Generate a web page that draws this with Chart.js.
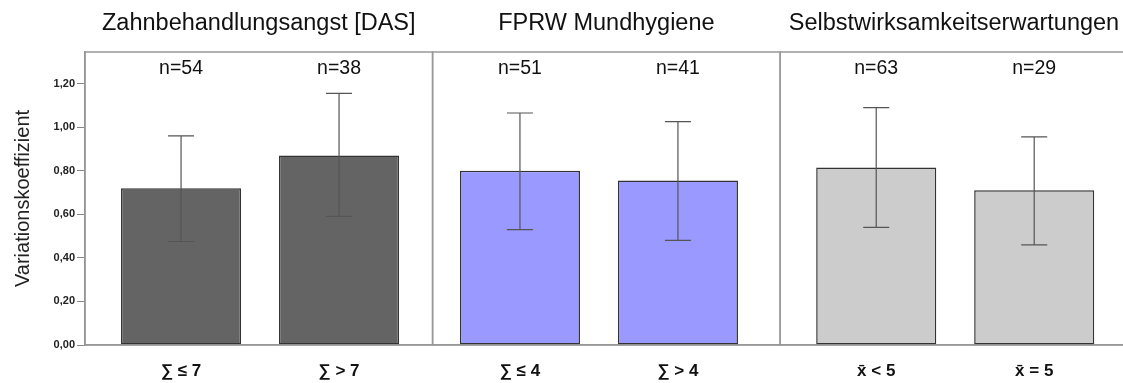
<!DOCTYPE html>
<html>
<head>
<meta charset="utf-8">
<script src="https://cdn.jsdelivr.net/npm/chart.js@4"></script>
<style>
  body { margin: 0; background: #fff; }
</style>
</head>
<body>
<canvas id="cv_chart" width="1123" height="383"></canvas>
<script>
var groups = ['Zahnbehandlungsangst [DAS]', 'FPRW Mundhygiene', 'Selbstwirksamkeitserwartungen'];
var categories = ['∑ ≤ 7', '∑ > 7', '∑ ≤ 4', '∑ > 4', 'x̄ < 5', 'x̄ = 5'];
var values = [0.72, 0.87, 0.80, 0.755, 0.815, 0.71];
var err_low = [0.475, 0.59, 0.53, 0.48, 0.54, 0.46];
var err_high = [0.96, 1.155, 1.065, 1.025, 1.09, 0.955];
var n_counts = [54, 38, 51, 41, 63, 29];

var group_colors = ['#646464', '#9999ff', '#cccccc'];
var PANEL_SPAN = 2.2;
var PANEL_START = -0.608;
var PANEL_SHIFT = [0, -0.055, 0];
var FONT = "'Liberation Sans', Arial, sans-serif";

// x position of each bar: two bars per panel
var bar_x = values.map(function(v, i){
  var g = Math.floor(i / 2);
  return g * PANEL_SPAN + (i % 2) + PANEL_SHIFT[g];
});

var panelsPlugin = {
  id: 'panels',
  afterDatasetsDraw: function(chart){
    var ctx = chart.ctx;
    var xs = chart.scales.x, ys = chart.scales.y;
    var area = chart.chartArea;
    ctx.save();
    // panel frames + titles
    groups.forEach(function(g, k){
      var l = xs.getPixelForValue(PANEL_START + k * PANEL_SPAN);
      var r = xs.getPixelForValue(PANEL_START + (k + 1) * PANEL_SPAN);
      ctx.strokeStyle = '#999';
      ctx.lineWidth = 1.5;
      ctx.strokeRect(l, area.top, r - l, area.bottom - area.top);
      ctx.fillStyle = '#111';
      ctx.font = '23.5px ' + FONT;
      ctx.textAlign = 'center';
      ctx.textBaseline = 'middle';
      ctx.fillText(g, (l + r) / 2, 24);
    });
    // error bars and n labels
    values.forEach(function(v, i){
      var x = xs.getPixelForValue(bar_x[i]);
      var yl = ys.getPixelForValue(err_low[i]);
      var yh = ys.getPixelForValue(err_high[i]);
      ctx.strokeStyle = '#555';
      ctx.lineWidth = 1.2;
      ctx.beginPath();
      ctx.moveTo(x, yl); ctx.lineTo(x, yh);
      ctx.moveTo(x - 13, yl); ctx.lineTo(x + 13, yl);
      ctx.moveTo(x - 13, yh); ctx.lineTo(x + 13, yh);
      ctx.stroke();
      ctx.fillStyle = '#111';
      ctx.font = '19.5px ' + FONT;
      ctx.textAlign = 'center';
      ctx.textBaseline = 'middle';
      ctx.fillText('n=' + n_counts[i], x, 69);
    });
    ctx.restore();
  }
};

var ctx = document.getElementById('cv_chart').getContext('2d');
new Chart(ctx, {
  type: 'bar',
  data: {
    datasets: [{
      data: values.map(function(v, i){ return {x: bar_x[i], y: v}; }),
      backgroundColor: values.map(function(v, i){ return group_colors[Math.floor(i / 2)]; }),
      borderColor: '#333',
      borderWidth: 1.5,
      borderSkipped: false,
      barPercentage: 0.76,
      categoryPercentage: 1
    }]
  },
  options: {
    responsive: false,
    animation: false,
    layout: { padding: { top: 52, left: 0, right: 0, bottom: 0 } },
    plugins: { legend: { display: false }, tooltip: { enabled: false } },
    scales: {
      x: {
        type: 'linear',
        min: PANEL_START,
        max: 5.962,
        offset: false,
        grid: { drawOnChartArea: false, drawTicks: false, offset: false },
        border: { display: true, color: '#999', width: 1.5 },
        afterBuildTicks: function(scale){
          scale.ticks = bar_x.map(function(v){ return {value: v}; });
        },
        afterFit: function(scale){ scale.height = 38; },
        ticks: {
          autoSkip: false,
          maxRotation: 0,
          padding: 16,
          color: '#111',
          font: { family: FONT, size: 17, weight: 'bold' },
          callback: function(value, index){ return categories[index]; }
        }
      },
      y: {
        min: 0,
        max: 1.345,
        grid: { drawOnChartArea: false, drawTicks: true, tickLength: 8, color: '#888' },
        border: { display: true, color: '#888', width: 1.5 },
        afterFit: function(scale){ scale.width = 85; },
        title: {
          display: true,
          text: 'Variationskoeffizient',
          color: '#222',
          font: { family: FONT, size: 20 },
          padding: { top: 11, bottom: 0 }
        },
        ticks: {
          stepSize: 0.2,
          includeBounds: false,
          padding: 2,
          color: '#222',
          font: { family: FONT, size: 11, weight: 'bold' },
          callback: function(value){ return value.toFixed(2).replace('.', ','); }
        }
      }
    }
  },
  plugins: [panelsPlugin]
});
</script>
</body>
</html>
